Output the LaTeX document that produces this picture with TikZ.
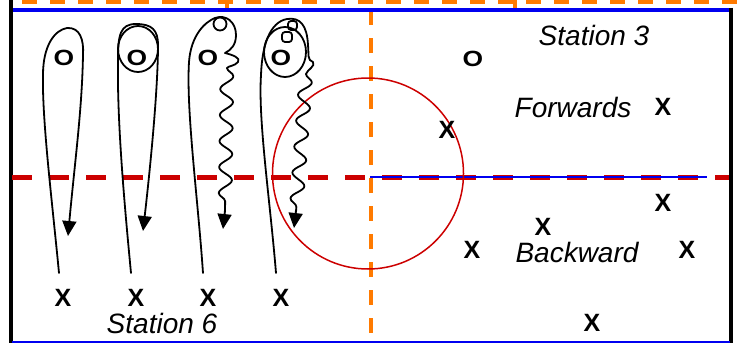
\documentclass[tikz,border=0pt]{standalone}
\usepackage{fontspec}
\setmainfont{Liberation Sans}
\usetikzlibrary{arrows.meta,decorations.pathmorphing}
\definecolor{dorange}{RGB}{255,122,0}
\definecolor{dred}{RGB}{204,0,0}
\definecolor{dblue}{RGB}{0,0,240}
\tikzset{
  track/.style={line width=1.8pt, line cap=round, line join=round},
  tip/.style={-{Triangle[length=15pt,width=14pt]}},
  wave/.style={track, decorate, decoration={snake, amplitude=6.5pt, segment length=26pt}},
  xmark/.style={font=\fontsize{25}{27}\selectfont\bfseries, anchor=base, inner sep=0pt},
  omark/.style={font=\fontsize{22}{24}\selectfont\bfseries, anchor=base, inner sep=0pt, xscale=1.2},
  lbl/.style={font=\fontsize{28}{30}\selectfont\itshape, anchor=base, inner sep=0pt},
  odash/.style={dorange, line width=5pt, dash pattern=on 15pt off 13pt},
}
\begin{document}
\begin{tikzpicture}[x=1pt,y=-1pt]
\useasboundingbox (0,0) rectangle (741,343);
% frame
\draw[odash] (22,1) -- (741,1);
\fill[dorange] (225,0) rectangle (229,8);
\fill[dorange] (513,0) rectangle (517,8);
\draw[odash, line width=4pt] (371,10) -- (371,343);
\draw[dblue, line width=4pt] (12,9.5) -- (732,9.5);
\draw[line width=4pt] (10.5,0) -- (10.5,343);
\draw[line width=4pt] (730.5,7.5) -- (730.5,343);
\draw[dblue, line width=2pt] (12,342) -- (730,342);
\draw[dred, line width=5pt, dash pattern=on 20pt off 17pt] (12,177) -- (728.5,177);
\draw[dblue, line width=1.6pt] (370,177) -- (707,177);
\draw[dred, line width=1.5pt] (368,173.5) circle (95.5pt);
% texts
\node[lbl] (st3) at (594,45) {Station 3};
\node[lbl] (fwd) at (573,117) {Forwards};
\node[lbl] (bwd) at (577,262) {Backward};
\node[lbl] (st6) at (162,333) {Station 6};
% players O
\node[omark] (o1) at (64,65.5) {O};
\node[omark] (o2) at (137,65.5) {O};
\node[omark] (o3) at (208,65.5) {O};
\node[omark] (o4) at (281,65.5) {O};
\node[omark] (o5) at (473,66.5) {O};
% X marks
\node[xmark] (x1) at (63,306.5) {X};
\node[xmark] (x2) at (136,306.5) {X};
\node[xmark] (x3) at (208,306.5) {X};
\node[xmark] (x4) at (281,306.5) {X};
\node[xmark] (x5) at (447,138.5) {X};
\node[xmark] (x6) at (663,115.5) {X};
\node[xmark] (x7) at (663,211.5) {X};
\node[xmark] (x8) at (543,235.5) {X};
\node[xmark] (x9) at (472,258.5) {X};
\node[xmark] (x10) at (687,258.5) {X};
\node[xmark] (x11) at (592,331.5) {X};
% track 1
\draw[track, tip] (59,273) .. controls (52,200) and (42,120) .. (43,75)
  .. controls (43,45) and (55,30) .. (67,28) .. controls (80,27) and (84,40) .. (83,55)
  .. controls (82,110) and (75,160) .. (68,236);
% track 2
\draw[track, tip] (131,273) .. controls (124,200) and (117,120) .. (118,60)
  .. controls (118,35) and (120,24) .. (136,24) .. controls (152,24) and (158,30) .. (158,45)
  .. controls (158,90) and (150,170) .. (143,231);
\draw[track] (138,49) ellipse (20pt and 23pt);
% track 3
\draw[track] (203,273) .. controls (198,200) and (186,110) .. (189,62)
  .. controls (191,35) and (205,22) .. (215,18) .. controls (226,14) and (236,22) .. (236,35)
  .. controls (236,45) and (231,50) .. (225,53) .. controls (233,55) and (241,58) .. (238,62)
  .. controls (235,66) and (228,66) .. (227,68);
\draw[track] (220,24) circle (6.5pt);
\draw[wave] (227,68) -- (225,212);
\draw[track, tip] (225,210) -- (223,229);
% track 4
\draw[track] (276,273) .. controls (270,200) and (258,120) .. (261,75)
  .. controls (262,45) and (270,22) .. (287,19) .. controls (300,17) and (307,25) .. (308,45)
  .. controls (309,55) and (307,60) .. (313,62) .. controls (316,66) and (307,70) .. (306,74);
\draw[track] (285,52) ellipse (21pt and 25pt);
\draw[track, rounded corners=3pt] (288,21) rectangle (297,30);
\draw[track, rounded corners=3pt] (282,32) rectangle (292,42);
\draw[wave] (306,74) -- (296,212);
\draw[track, tip] (296,210) -- (294,228);
\end{tikzpicture}
\end{document}
